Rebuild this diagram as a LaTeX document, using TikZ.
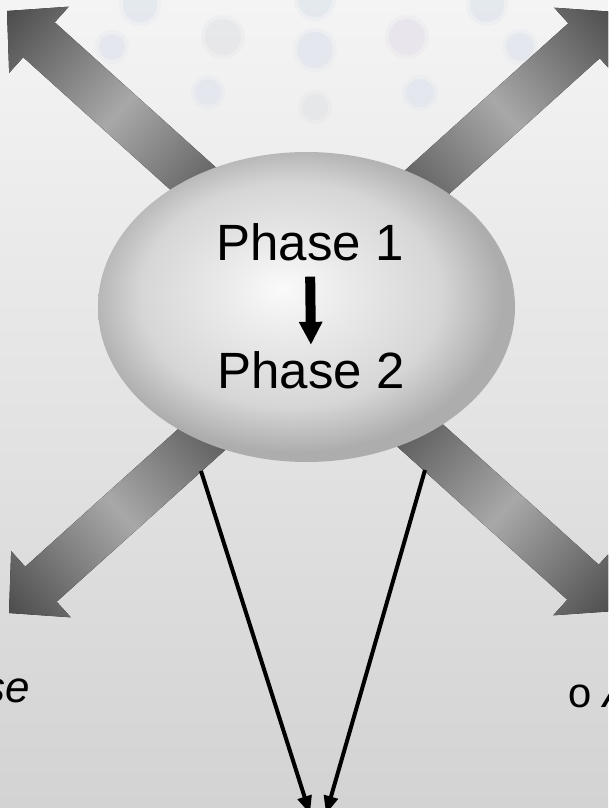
\documentclass[tikz,border=0pt]{standalone}
\usepackage{fontspec}
\setmainfont{Liberation Sans}
\newfontfamily\bulletfam{Liberation Mono}
\usetikzlibrary{shapes.geometric,arrows.meta}

\definecolor{bgtop}{HTML}{F4F4F4}
\definecolor{bgbot}{HTML}{D3D3D3}
\definecolor{bardark}{HTML}{4C4C4C}
\definecolor{barlight}{HTML}{A8A8A8}
\definecolor{bartail}{HTML}{505050}
\definecolor{ballA}{HTML}{FAFAFA}
\definecolor{ballB}{HTML}{EBEBEB}
\definecolor{ballC}{HTML}{D6D6D6}
\definecolor{ballD}{HTML}{ADADAD}
\definecolor{dotblue}{HTML}{E3E8EE}
\definecolor{dotgray}{HTML}{E6E7E9}
\definecolor{dotlav}{HTML}{E8E5EC}

% soft grey ball for the central ellipse
\pgfdeclareradialshading{coreball}{\pgfpoint{-3bp}{3bp}}{%
  color(0bp)=(ballA); color(7bp)=(ballB); color(18bp)=(ballC);
  color(25bp)=(ballD); color(50bp)=(ballD)}

% wide block arrow: tip at (#1,#2), pointing at angle #3
\newcommand\blockarrow[3]{%
  \begin{scope}[transform canvas={shift={(#1,#2)}, rotate=#3}]
    \fill[bigbar] (0,0) -- (-43,44.5) -- (-43,23.5) -- (-300,23.5)
      -- (-300,-23.5) -- (-43,-23.5) -- (-43,-44.5) -- cycle;
  \end{scope}}

\tikzset{
  bigbar/.style={left color=bartail, right color=bardark, middle color=barlight},
  phase/.style={inner sep=0pt, font=\fontsize{51}{60}\selectfont},
  subtext/.style={inner sep=0pt, font=\fontsize{44}{52}\selectfont},
  steparrow/.style={line width=10pt, -{Triangle[width=22pt,length=23pt]}},
  thinarrow/.style={line width=4pt, -{Triangle[width=14pt,length=18pt]}},
}

\begin{document}
\begin{tikzpicture}[x=1pt,y=-1pt]
\useasboundingbox (0,0) rectangle (608,808);
\clip (0,0) rectangle (608,808);

% background
\fill[top color=bgtop, bottom color=bgbot] (0,0) rectangle (608,808);

% faint dots along the top
\foreach \px/\py/\r/\c in {140/5/17/dotblue, 315/0/17/dotblue, 487/5/17/dotblue,
    112/47/13/dotblue, 223/37/18/dotgray, 315/50/18/dotblue, 407/37/18/dotlav,
    520/47/14/dotblue, 208/92/13/dotblue, 315/107/13/dotgray, 420/93/14/dotblue}{
  \pgfmathsetmacro\rr{\r+4}
  \fill[\c, opacity=0.4] (\px,\py) circle[radius=\rr pt];
  \fill[\c, opacity=0.85] (\px,\py) circle[radius=\r pt];
}

% four block arrows radiating to the corners
\blockarrow{7}{11}{138}
\blockarrow{616}{12}{42}
\blockarrow{9}{613}{222}
\blockarrow{615}{611}{318}

% central ellipse
\node[ellipse, minimum width=417pt, minimum height=310pt, inner sep=0pt,
      shade, shading=coreball] (core) at (306.5,307) {};

\node[phase, anchor=base] (p1) at (310,260) {Phase 1};
\node[phase, anchor=base] (p2) at (311,388) {Phase 2};
\draw[steparrow, shorten <=16pt, shorten >=6pt] (p1.south) -- (p2.north);

% two arrows converging below
\coordinate (lsrc) at (201,471);
\coordinate (rsrc) at (425,470);
\coordinate (ltip) at (310,814);
\coordinate (rtip) at (326,814);
\draw[thinarrow] (lsrc) -- (ltip);
\draw[thinarrow] (rsrc) -- (rtip);

% text at the lower edges
\node[subtext, anchor=base east] (lefttxt) at (30,702) {\itshape se};
\node[inner sep=0pt, font=\fontsize{42}{50}\selectfont\bulletfam, anchor=base] (bul) at (580,707) {o};
\node[subtext, anchor=base west] (righttxt) at (603,707) {\itshape A};
\end{tikzpicture}
\end{document}
